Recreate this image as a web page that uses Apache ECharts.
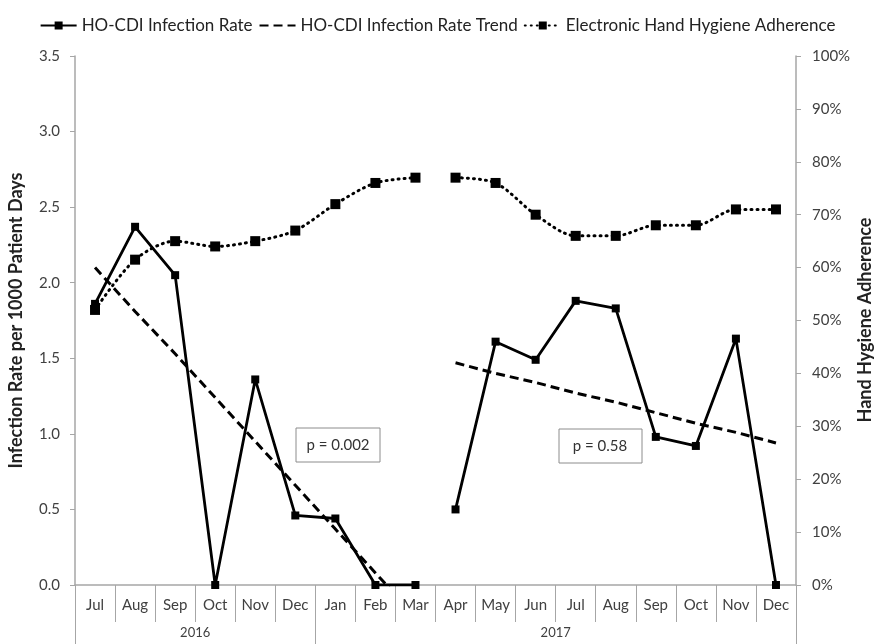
<!DOCTYPE html>
<html>
<head>
<meta charset="utf-8">
<script src="https://cdn.jsdelivr.net/npm/echarts@6/dist/echarts.min.js"></script>
<style>
  html, body { margin: 0; padding: 0; background: #fff; }
  #chart { width: 875px; height: 644px; }
</style>
</head>
<body>
<div id="chart"></div>
<script>
// months Jul 2016 .. Dec 2017
const months = ['Jul', 'Aug', 'Sep', 'Oct', 'Nov', 'Dec', 'Jan', 'Feb', 'Mar',
  'Apr', 'May', 'Jun', 'Jul', 'Aug', 'Sep', 'Oct', 'Nov', 'Dec']
const years = ['2016', '2017']
// HO-CDI infection rate per 1000 patient days
const infectionRate = [1.86, 2.37, 2.05, 0, 1.36, 0.46, 0.44, 0, 0,
  0.5, 1.61, 1.49, 1.88, 1.83, 0.98, 0.92, 1.63, 0]
// trend lines (pre / post)
const trendPre = [2.10, 1.81, 1.53, 1.24, 0.95, 0.66, 0.37, 0.08, -0.21]
const trendPost = [1.47, 1.40, 1.34, 1.27, 1.21, 1.14, 1.07, 1.01, 0.94]
// electronic hand hygiene adherence, %
const hygiene = [52, 61.5, 65, 64, 65, 67, 72, 76, 77,
  77, 76, 70, 66, 66, 68, 68, 71, 71]
const leftTicks = { min: 0, max: 3.5, step: 0.5 }
const rightTicks = { min: 0, max: 100, step: 10 }

const split = 9
const blanks = n => new Array(n).fill(null)
const firstPart = arr => arr.slice(0, split).concat(blanks(months.length - split))
const secondPart = arr => blanks(split).concat(arr.slice(split))

const font = 'Lato'
const axisGray = '#a6a6a6'
const labelColor = '#404040'

const chart = echarts.init(document.getElementById('chart'))

const infectionStyle = {
  type: 'line',
  symbol: 'rect',
  symbolSize: 8,
  itemStyle: { color: '#000' },
  lineStyle: { color: '#000', width: 2.8 },
  z: 3,
}
const trendStyle = {
  type: 'line',
  symbol: 'none',
  itemStyle: { color: '#000' },
  lineStyle: { color: '#000', width: 3, type: [9, 5] },
  z: 2,
}
const hygieneStyle = {
  type: 'line',
  yAxisIndex: 1,
  smooth: 0.3,
  symbol: 'rect',
  symbolSize: 10,
  itemStyle: { color: '#000' },
  lineStyle: { color: '#000', width: 3, type: [1, 5], cap: 'round' },
  z: 2,
}

const option = {
  backgroundColor: '#fff',
  animation: false,
  textStyle: { fontFamily: font },
  legend: {
    top: 12,
    left: 'center',
    itemWidth: 36,
    itemHeight: 10,
    itemGap: 6,
    textStyle: { fontFamily: font, fontSize: 17, color: '#222' },
    data: [
      { name: 'HO-CDI Infection Rate' },
      { name: 'HO-CDI Infection Rate Trend', itemStyle: { opacity: 0 } },
      { name: 'Electronic Hand Hygiene Adherence' },
    ],
  },
  grid: { left: 75, right: 79, top: 56, bottom: 59, outerBoundsMode: 'none' },
  xAxis: [
    {
      type: 'category',
      data: months,
      boundaryGap: true,
      axisLine: { lineStyle: { color: axisGray, width: 1.5 } },
      axisTick: { show: true, interval: 0, length: 37, lineStyle: { color: axisGray } },
      axisLabel: { interval: 0, margin: 13, fontSize: 15, color: labelColor },
    },
    {
      type: 'value',
      min: 0,
      max: months.length,
      position: 'bottom',
      axisLine: { show: false },
      splitLine: { show: false },
      axisTick: { show: true, length: 59, customValues: [0, 6, 18], lineStyle: { color: axisGray } },
      axisLabel: {
        customValues: [3, 12],
        margin: 41,
        fontSize: 13,
        color: labelColor,
        formatter: v => (v < 6 ? years[0] : years[1]),
      },
    },
  ],
  yAxis: [
    {
      type: 'value',
      min: leftTicks.min,
      max: leftTicks.max,
      interval: leftTicks.step,
      name: 'Infection Rate per 1000 Patient Days',
      nameLocation: 'middle',
      nameGap: 50,
      nameTextStyle: { fontFamily: font, fontSize: 18, fontWeight: 'bold', color: '#222' },
      axisLine: { show: true, lineStyle: { color: axisGray, width: 1.5 } },
      axisTick: { show: true, length: 5, lineStyle: { color: axisGray } },
      splitLine: { show: false },
      axisLabel: { fontSize: 15, color: labelColor, margin: 15, formatter: v => v.toFixed(1) },
    },
    {
      type: 'value',
      min: rightTicks.min,
      max: rightTicks.max,
      interval: rightTicks.step,
      position: 'right',
      axisLine: { show: true, lineStyle: { color: axisGray, width: 1.5 } },
      axisTick: { show: true, length: 5, lineStyle: { color: axisGray } },
      splitLine: { show: false },
      axisLabel: { fontSize: 15, color: labelColor, margin: 16, formatter: v => v + '%' },
    },
  ],
  series: [
    Object.assign({ name: 'HO-CDI Infection Rate', data: firstPart(infectionRate) }, infectionStyle),
    Object.assign({ name: 'HO-CDI Infection Rate', data: secondPart(infectionRate) }, infectionStyle),
    Object.assign({ name: 'HO-CDI Infection Rate Trend', data: firstPart(trendPre) }, trendStyle),
    Object.assign({ name: 'HO-CDI Infection Rate Trend', data: blanks(split).concat(trendPost) }, trendStyle),
    Object.assign({ name: 'Electronic Hand Hygiene Adherence', data: firstPart(hygiene) }, hygieneStyle),
    Object.assign({ name: 'Electronic Hand Hygiene Adherence', data: secondPart(hygiene) }, hygieneStyle),
  ],
  graphic: [
    // right axis title
    {
      type: 'text',
      x: 865,
      y: 320,
      rotation: Math.PI / 2,
      style: {
        text: 'Hand Hygiene Adherence',
        fontFamily: font,
        fontSize: 18,
        fontWeight: 'bold',
        fill: '#222',
        align: 'center',
        verticalAlign: 'middle',
      },
    },
    {
      type: 'rect',
      shape: { x: 296, y: 428, width: 84, height: 34 },
      style: { fill: '#fff', stroke: '#8c8c8c', lineWidth: 1 },
      z: 10,
    },
    {
      type: 'text',
      x: 338,
      y: 445,
      style: { text: 'p = 0.002', fontFamily: font, fontSize: 15, fill: '#333', align: 'center', verticalAlign: 'middle' },
      z: 11,
    },
    {
      type: 'rect',
      shape: { x: 559, y: 429, width: 83, height: 34 },
      style: { fill: '#fff', stroke: '#8c8c8c', lineWidth: 1 },
      z: 10,
    },
    {
      type: 'text',
      x: 600,
      y: 446,
      style: { text: 'p = 0.58', fontFamily: font, fontSize: 15, fill: '#333', align: 'center', verticalAlign: 'middle' },
      z: 11,
    },
  ],
}

chart.setOption(option)
</script>
</body>
</html>
